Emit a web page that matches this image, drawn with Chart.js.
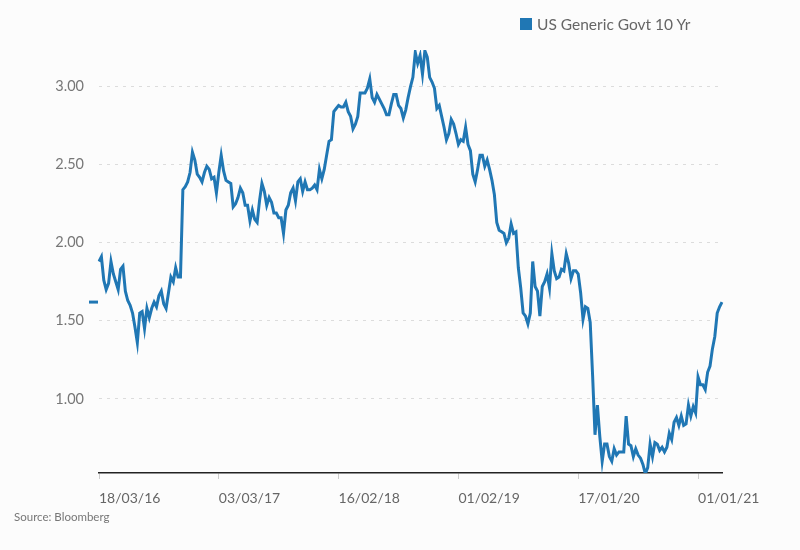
<!DOCTYPE html>
<html>
<head>
<meta charset="utf-8">
<script src="https://cdn.jsdelivr.net/npm/chart.js@4.4.1/dist/chart.umd.min.js"></script>
<style>
  body { margin: 0; background: #fcfcfc; font-family: Lato, "Noto Sans", sans-serif; }
  #wrap { position: relative; width: 800px; height: 550px; }
  #legend { position: absolute; left: 520px; top: 15px; color: #666; font-size: 15.5px; display: flex; align-items: center; }
  #legend span.box { display: inline-block; width: 12px; height: 12px; background: #2077b4; margin-right: 5px; }
  #source { position: absolute; left: 14px; top: 510px; color: #777; font-size: 11.5px; }
</style>
</head>
<body>
<div id="wrap">
  <canvas id="chart" width="800" height="550"></canvas>
  <div id="legend"><span class="box"></span>US Generic Govt 10 Yr</div>
  <div id="source">Source: Bloomberg</div>
</div>
<script>
// weekly closes, starting 18/03/16
const yields = [
  1.88, 1.91, 1.76, 1.70, 1.74, 1.88, 1.80, 1.75, 1.70, 1.83,
  1.85, 1.69, 1.63, 1.60, 1.55, 1.46, 1.36, 1.55, 1.56, 1.45,
  1.58, 1.52, 1.58, 1.62, 1.59, 1.66, 1.69, 1.61, 1.58, 1.68,
  1.78, 1.75, 1.84, 1.78, 1.78, 2.34, 2.36, 2.39, 2.45, 2.58,
  2.53, 2.44, 2.42, 2.39, 2.45, 2.49, 2.47, 2.41, 2.42, 2.32,
  2.45, 2.56, 2.46, 2.40, 2.39, 2.38, 2.23, 2.25, 2.29, 2.35,
  2.32, 2.24, 2.24, 2.14, 2.21, 2.15, 2.13, 2.27, 2.38, 2.33,
  2.24, 2.29, 2.26, 2.19, 2.19, 2.16, 2.16, 2.06, 2.21, 2.24,
  2.32, 2.35, 2.27, 2.39, 2.41, 2.33, 2.39, 2.34, 2.34, 2.35,
  2.37, 2.34, 2.47, 2.41, 2.47, 2.56, 2.65, 2.66, 2.84, 2.86,
  2.88, 2.87, 2.87, 2.90, 2.84, 2.81, 2.73, 2.76, 2.81, 2.96,
  2.96, 2.96, 2.99, 3.05, 2.93, 2.90, 2.95, 2.92, 2.89, 2.86,
  2.82, 2.82, 2.89, 2.95, 2.95, 2.88, 2.86, 2.80, 2.85, 2.93,
  3.00, 3.06, 3.22, 3.15, 3.20, 3.08, 3.23, 3.19, 3.06, 3.03,
  2.99, 2.86, 2.88, 2.81, 2.74, 2.66, 2.70, 2.79, 2.76, 2.70,
  2.63, 2.66, 2.65, 2.74, 2.63, 2.59, 2.44, 2.39, 2.47, 2.56,
  2.56, 2.49, 2.53, 2.47, 2.40, 2.31, 2.13, 2.08, 2.07, 2.06,
  2.00, 2.03, 2.12, 2.06, 2.07, 1.84, 1.71, 1.55, 1.53, 1.48,
  1.55, 1.88, 1.72, 1.69, 1.53, 1.72, 1.75, 1.80, 1.71, 1.93,
  1.82, 1.77, 1.78, 1.83, 1.82, 1.93, 1.87, 1.77, 1.82, 1.82,
  1.80, 1.68, 1.51, 1.59, 1.58, 1.49, 1.15, 0.77, 0.96, 0.76,
  0.60, 0.71, 0.71, 0.63, 0.60, 0.68, 0.64, 0.66, 0.66, 0.66,
  0.89, 0.71, 0.70, 0.63, 0.68, 0.64, 0.62, 0.58, 0.52, 0.56,
  0.71, 0.63, 0.72, 0.71, 0.67, 0.69, 0.66, 0.69, 0.78, 0.74,
  0.85, 0.88, 0.83, 0.89, 0.83, 0.84, 0.96, 0.89, 0.95, 0.91,
  1.14, 1.09, 1.09, 1.06, 1.17, 1.21, 1.32, 1.40, 1.55, 1.59,
  1.62
];
const yTicks = [1.00, 1.50, 2.00, 2.50, 3.00];
const xTickLabels = ['18/03/16', '03/03/17', '16/02/18', '01/02/19', '17/01/20', '01/01/21'];

// weekly date categories
const start = Date.UTC(2016, 2, 18);
const pad = n => String(n).padStart(2, '0');
const weeks = yields.map((v, i) => {
  const d = new Date(start + i * 7 * 86400000);
  return pad(d.getUTCDate()) + '/' + pad(d.getUTCMonth() + 1) + '/' + pad(d.getUTCFullYear() % 100);
});
const isLabelled = i => xTickLabels.includes(weeks[i]);

const blue = '#2077b4';

// small mark on the y axis at the latest value
const lastValueMark = {
  id: 'lastValueMark',
  afterDatasetsDraw(chart) {
    const { ctx, chartArea, scales } = chart;
    const y = scales.y.getPixelForValue(yields[yields.length - 1]);
    ctx.save();
    ctx.strokeStyle = blue;
    ctx.lineWidth = 3;
    ctx.beginPath();
    ctx.moveTo(chartArea.left - 10, y);
    ctx.lineTo(chartArea.left - 1, y);
    ctx.stroke();
    ctx.restore();
  }
};

new Chart(document.getElementById('chart'), {
  type: 'line',
  data: {
    labels: weeks,
    datasets: [{
      label: 'US Generic Govt 10 Yr',
      data: yields,
      borderColor: blue,
      backgroundColor: blue,
      borderWidth: 3,
      pointRadius: 0,
      tension: 0
    }]
  },
  options: {
    responsive: false,
    animation: false,
    layout: { padding: { top: 50, right: 78, left: 0, bottom: 0 } },
    plugins: {
      legend: { display: false },
      tooltip: { enabled: false }
    },
    scales: {
      x: {
        afterFit: s => { s.height = 77; },
        grid: {
          drawOnChartArea: false,
          tickLength: 6,
          tickColor: c => isLabelled(c.index) ? '#cccccc' : 'rgba(0,0,0,0)'
        },
        border: { display: true, color: '#222', width: 1.5 },
        ticks: {
          autoSkip: false,
          maxRotation: 0,
          minRotation: 0,
          align: 'start',
          padding: 11,
          color: '#666',
          font: { family: 'Lato', size: 14 },
          callback: (v, i) => isLabelled(i) ? weeks[i] : ''
        }
      },
      y: {
        min: 0.525,
        max: 3.235,
        afterFit: s => { s.width = 99; },
        afterBuildTicks: s => { s.ticks = yTicks.map(v => ({ value: v })); },
        grid: { color: '#dcdcdc', drawTicks: false },
        border: { display: false, dash: [3, 5] },
        ticks: {
          padding: 15,
          color: '#777',
          font: { family: 'Lato', size: 14.5 },
          callback: v => Number(v).toFixed(2)
        }
      }
    }
  },
  plugins: [lastValueMark]
});
</script>
</body>
</html>
